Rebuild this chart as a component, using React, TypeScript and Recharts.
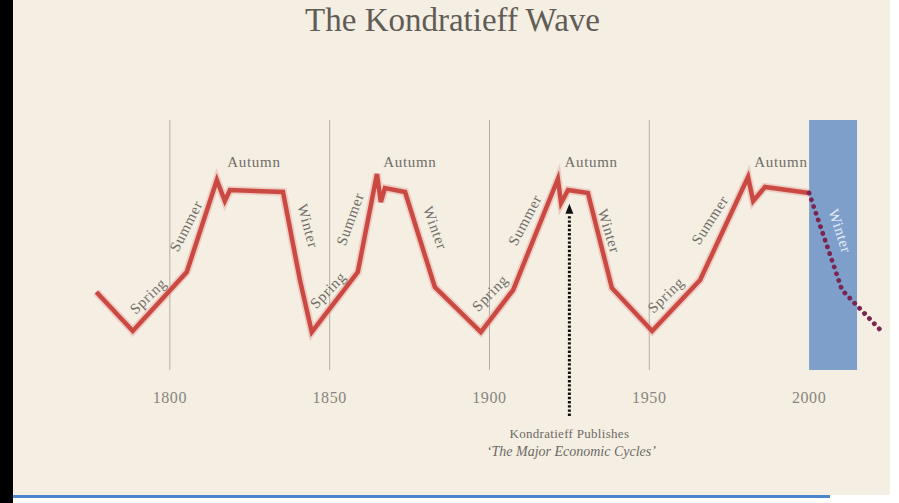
import React from "react";
import {
  ComposedChart,
  Line,
  XAxis,
  YAxis,
  ReferenceLine,
  ReferenceArea,
  ReferenceDot,
  Scatter,
} from "recharts";

// Wave path (year, index level 0-100)
const years = [
  1777, 1788.4, 1805.3, 1814.7, 1817.2, 1818.8, 1835.4, 1840.7, 1844.4,
  1858.8, 1864.8, 1866, 1867.3, 1873.6, 1882.9, 1897.3,
  1907.4, 1921.4, 1922.4, 1924.6, 1930.8, 1938.3, 1950.9,
  1965.9, 1980.9, 1982.5, 1986.2, 2000, 2010.3, 2023.2,
];
const solidLevels: (number | null)[] = [
  31.2, 15.6, 39.2, 76, 67.6, 72, 71.2, 36, 15.2,
  39.2, 78.4, 67.2, 72.8, 71.2, 33.2, 15.2,
  32, 76.4, 66.8, 72, 70.8, 32.8, 15.6,
  36, 77.2, 67.6, 73.2, 70.8, null, null,
];
const forecastLevels: (number | null)[] = [
  null, null, null, null, null, null, null, null, null,
  null, null, null, null, null, null, null,
  null, null, null, null, null, null, null,
  null, null, null, null, 70.8, 32, 14.8,
];

const tickYears = [1800, 1850, 1900, 1950, 2000];
const gridYears = [1800, 1850, 1900, 1950];

const seasonNames = [
  "Spring", "Summer", "Autumn", "Winter",
  "Spring", "Summer", "Autumn", "Winter",
  "Spring", "Summer", "Autumn", "Winter",
  "Spring", "Summer", "Autumn", "Winter",
];
const seasonYears = [
  1793.2, 1805.1, 1826.3, 1843.2,
  1849.5, 1856.4, 1875.1, 1883,
  1900.2, 1911.1, 1931.8, 1937.4,
  1955.2, 1969, 1991.2, 2009.7,
];
const seasonLevels = [
  29.6, 57.6, 83.2, 57.6,
  32, 60.4, 83.2, 56.8,
  30.8, 60, 83.2, 55.6,
  30, 60, 83.2, 55.6,
];
const seasonAngles = [
  -44, -63, 0, 75,
  -46, -70, 0, 70,
  -46, -62, 0, 73,
  -44, -57, 0, 72,
];

const publishYear = 1925;
const winterStart = 2000;
const winterEnd = 2015;

const waveData = years.map((year, i) => ({
  year,
  solid: solidLevels[i],
  forecast: forecastLevels[i],
}));

const seasonData = seasonNames.map((name, i) => ({
  year: seasonYears[i],
  level: seasonLevels[i],
  name,
  angle: seasonAngles[i],
  inWinterBand: seasonYears[i] >= winterStart,
}));

const SERIF = "'Liberation Serif', 'DejaVu Serif', serif";

const SeasonLabel = (props: any) => {
  const { cx, cy, payload } = props;
  if (cx == null || cy == null) return null;
  return (
    <text
      x={cx}
      y={cy}
      textAnchor="middle"
      dominantBaseline="central"
      fontFamily={SERIF}
      fontSize={15}
      letterSpacing={0.7}
      fill={payload.inWinterBand ? "#e6edf7" : "#716d67"}
      transform={`rotate(${payload.angle}, ${cx}, ${cy})`}
    >
      {payload.name}
    </text>
  );
};

const YearTick = (props: any) => {
  const { x, y, payload } = props;
  return (
    <text
      x={x}
      y={y + 33}
      textAnchor="middle"
      fontFamily={SERIF}
      fontSize={16}
      letterSpacing={0.6}
      fill="#8a857e"
    >
      {payload.value}
    </text>
  );
};

const ArrowHead = (props: any) => {
  const { cx, cy } = props;
  if (cx == null || cy == null) return null;
  return (
    <path
      d={`M${cx},${cy - 5} L${cx + 4},${cy + 5} L${cx - 4},${cy + 5} Z`}
      fill="#111111"
    />
  );
};

const PublishNote = (props: any) => {
  const { cx, cy } = props;
  if (cx == null || cy == null) return null;
  return (
    <g fontFamily={SERIF} fill="#6e6a64" textAnchor="middle">
      <text x={cx} y={cy} fontSize={13} letterSpacing={0.3}>
        Kondratieff Publishes
      </text>
      <text x={cx + 2} y={cy + 18} fontSize={14} fontStyle="italic">
        ‘The Major Economic Cycles’
      </text>
    </g>
  );
};

export default function App() {
  return (
    <div
      style={{
        position: "absolute",
        left: 0,
        top: 0,
        width: 899,
        height: 503,
        background: "#ffffff",
        overflow: "hidden",
      }}
    >
      <div
        style={{
          position: "absolute",
          left: 13,
          top: 0,
          width: 877,
          height: 495,
          background: "#f4eee3",
        }}
      />
      <div
        style={{
          position: "absolute",
          left: 13,
          top: 495,
          width: 817,
          height: 3,
          background: "#4a86cc",
        }}
      />
      <div
        style={{
          position: "absolute",
          left: 0,
          top: 0,
          width: 905,
          textAlign: "center",
          fontFamily: SERIF,
          fontSize: 33,
          lineHeight: "40px",
          color: "#615c56",
        }}
      >
        The Kondratieff Wave
      </div>
      <div style={{ position: "absolute", left: 0, top: 0 }}>
        <ComposedChart
          width={899}
          height={503}
          data={waveData}
          margin={{ top: 120, right: 10, bottom: 103, left: 42 }}
        >
          <XAxis
            dataKey="year"
            type="number"
            domain={[1760, 2025]}
            allowDataOverflow
            ticks={tickYears}
            axisLine={false}
            tickLine={false}
            tickSize={0}
            tickMargin={0}
            height={30}
            tick={<YearTick />}
          />
          <YAxis type="number" domain={[0, 100]} hide allowDataOverflow />
          {gridYears.map((g) => (
            <ReferenceLine key={g} x={g} stroke="#b3ada4" strokeWidth={1} />
          ))}
          <ReferenceArea
            x1={winterStart}
            x2={winterEnd}
            fill="#7f9fcb"
            fillOpacity={1}
            stroke="none"
          />
          <ReferenceLine
            segment={[
              { x: publishYear, y: -18.4 },
              { x: publishYear, y: 62 },
            ]}
            stroke="#111111"
            strokeWidth={3}
            strokeDasharray="2.4 1.8"
            ifOverflow="visible"
          />
          <ReferenceDot
            x={publishYear}
            y={64.5}
            r={5}
            ifOverflow="visible"
            shape={<ArrowHead />}
          />
          <ReferenceDot
            x={publishYear}
            y={-27}
            r={1}
            ifOverflow="visible"
            shape={<PublishNote />}
          />
          <Line
            dataKey="solid"
            type="linear"
            stroke="#e6a49c"
            strokeOpacity={0.45}
            strokeWidth={8}
            dot={false}
            activeDot={false}
            isAnimationActive={false}
          />
          <Line
            dataKey="solid"
            type="linear"
            stroke="#cb4943"
            strokeWidth={4.5}
            dot={false}
            activeDot={false}
            isAnimationActive={false}
          />
          <Line
            dataKey="forecast"
            type="linear"
            stroke="#7a2650"
            strokeWidth={4.8}
            strokeDasharray="0.1 7"
            strokeLinecap="round"
            dot={false}
            activeDot={false}
            isAnimationActive={false}
          />
          <Scatter
            data={seasonData}
            dataKey="level"
            shape={<SeasonLabel />}
            isAnimationActive={false}
          />
        </ComposedChart>
      </div>
      <div
        style={{ position: "absolute", left: 0, top: 0, width: 13, height: 503, background: "#000" }}
      />
    </div>
  );
}
